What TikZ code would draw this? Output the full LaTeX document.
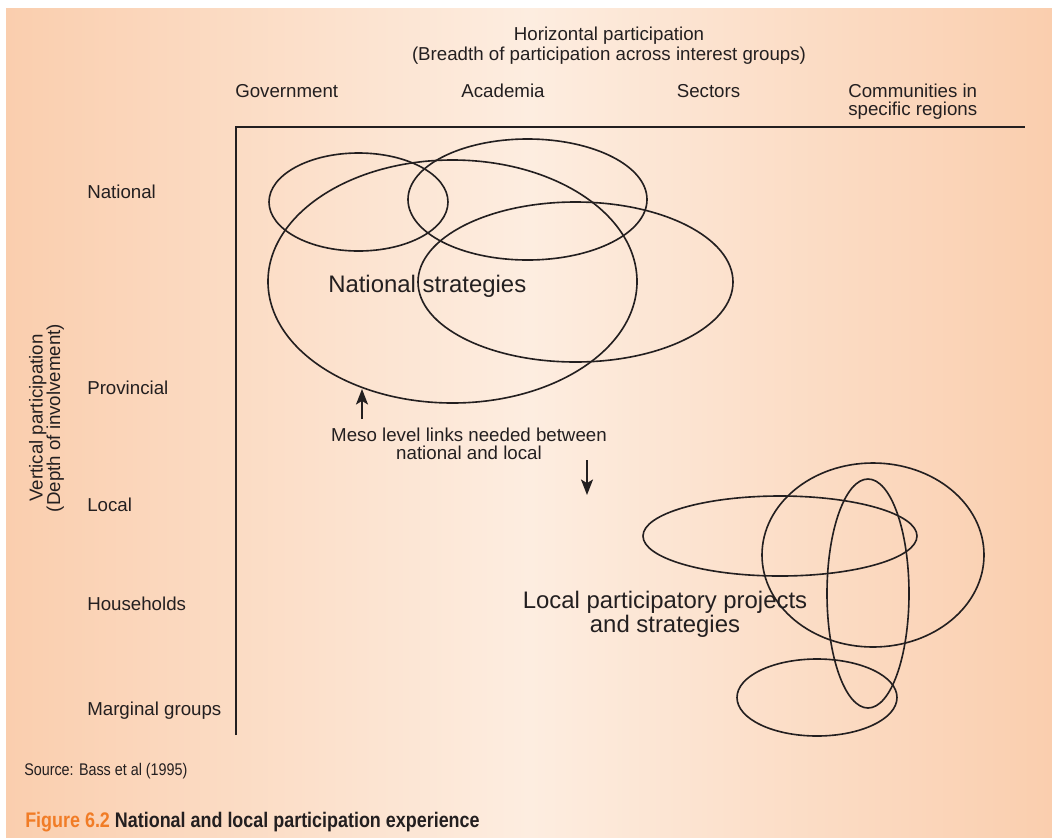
\documentclass[tikz,border=0pt]{standalone}
\usepackage{fontspec}
\setmainfont{Liberation Sans}
\newfontfamily\narrowfont[FakeStretch=0.85]{Liberation Sans}
\usetikzlibrary{arrows.meta}
\definecolor{peach}{RGB}{250,206,174}
\definecolor{cream}{RGB}{253,237,224}
\definecolor{ink}{RGB}{35,31,32}
\definecolor{figorange}{RGB}{241,124,38}
\tikzset{
  ring/.style={draw=ink, line width=1.15pt},
  axisline/.style={draw=ink, line width=1.3pt},
  lbl/.style={font=\fontsize{13.3}{12.5}\selectfont, text=ink, inner sep=0pt},
  biglbl/.style={font=\fontsize{17}{17}\selectfont, text=ink, inner sep=0pt, align=center},
  mesoarrow/.style={draw=ink, line width=1.3pt, -{Stealth[length=11pt,width=8.5pt,inset=2.5pt]}},
}

\begin{document}
\begin{tikzpicture}[x=0.025cm, y=-0.025cm]
  \useasboundingbox (0,0) rectangle (1052,837);
  \shade[left color=peach, right color=peach, middle color=cream] (6,8) rectangle (1052,837);

  \coordinate (origin) at (236,127);
  \coordinate (xend) at (1025,127);
  \coordinate (yend) at (236,735);
  \draw[axisline] (yend) -- (origin) -- (xend);

  \node[lbl, align=center, font=\fontsize{13.3}{14}\selectfont] (haxis) at (609,46) {Horizontal participation\\(Breadth of participation across interest groups)};
  \node[lbl, rotate=90, align=center] (vaxis) at (46.5,418) {Vertical participation\\(Depth of involvement)};

  \node[lbl, anchor=base west] (govt) at (235,97) {Government};
  \node[lbl, anchor=base] (acad) at (503,97) {Academia};
  \node[lbl, anchor=base] (sect) at (708.5,97) {Sectors};
  \node[lbl, anchor=west, align=left, font=\fontsize{13.3}{13}\selectfont] (comm) at (848,101.5) {Communities in\\specific regions};

  \node[lbl, anchor=base west] (natl) at (87,198) {National};
  \node[lbl, anchor=base west] (prov) at (87,394) {Provincial};
  \node[lbl, anchor=base west] (locl) at (87,511) {Local};
  \node[lbl, anchor=base west] (hous) at (87,610) {Households};
  \node[lbl, anchor=base west] (marg) at (87,715) {Marginal groups};

  % national level
  \coordinate (govring) at (358.5,202);
  \coordinate (acadring) at (527.5,199.5);
  \coordinate (natring) at (452.5,281.5);
  \coordinate (sectring) at (575.5,282);
  \draw[ring] (govring) ellipse [x radius=89.5, y radius=49];
  \draw[ring] (acadring) ellipse [x radius=119.5, y radius=60.5];
  \draw[ring] (natring) ellipse [x radius=184.5, y radius=121.5];
  \draw[ring] (sectring) ellipse [x radius=157.5, y radius=80];
  \node[biglbl, anchor=base west] (natstrat) at (328,292) {National strategies};

  % local level
  \coordinate (locring) at (780,536);
  \coordinate (commring) at (873,555);
  \coordinate (housring) at (868,593.5);
  \coordinate (margring) at (817,697.5);
  \draw[ring] (locring) ellipse [x radius=137, y radius=40];
  \draw[ring] (commring) ellipse [x radius=111, y radius=92];
  \draw[ring] (housring) ellipse [x radius=41, y radius=114.5];
  \draw[ring] (margring) ellipse [x radius=80, y radius=38.5];
  \node[biglbl] (locstrat) at (665,614.5) {Local participatory projects\\and strategies};

  % meso links
  \node[lbl, align=center] (meso) at (469,444) {Meso level links needed between\\national and local};
  \coordinate (upfoot) at (362,419);
  \coordinate (uptip) at (362,389);
  \coordinate (downfoot) at (587,460);
  \coordinate (downtip) at (587,495);
  \draw[mesoarrow] (upfoot) -- (uptip);
  \draw[mesoarrow] (downfoot) -- (downtip);

  \node[anchor=base west, inner sep=0pt, text=ink, font=\narrowfont\fontsize{12}{14}\selectfont] (source) at (24,775) {Source: Bass et al (1995)};
  \node[anchor=base west, inner sep=0pt, text=ink, font=\narrowfont\bfseries\fontsize{15}{17}\selectfont] (caption) at (25,827) {\textcolor{figorange}{Figure 6.2} National and local participation experience};
\end{tikzpicture}
\end{document}
